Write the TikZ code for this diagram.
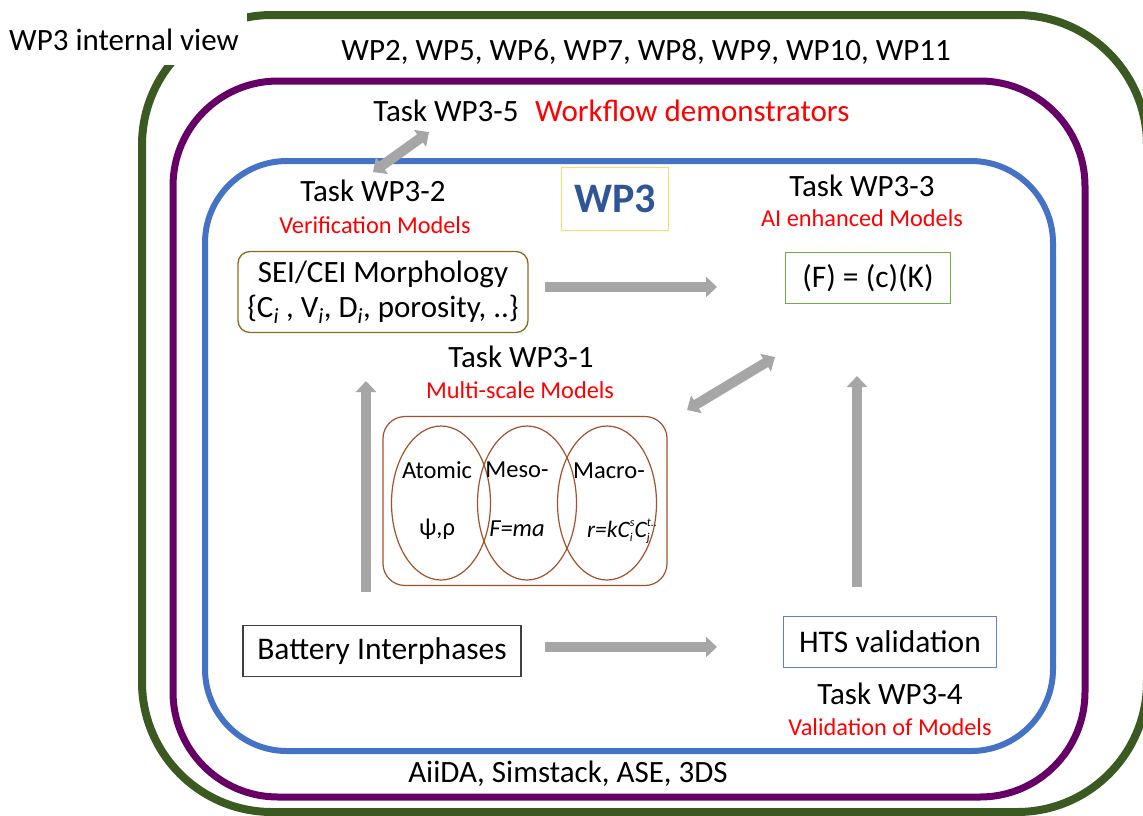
\documentclass[tikz,border=0pt]{standalone}
\usepackage{fontspec}
\setmainfont{Carlito}
\usetikzlibrary{arrows.meta,shapes.geometric}
\definecolor{wpgreen}{HTML}{3A5A22}
\definecolor{wppurple}{HTML}{660066}
\definecolor{wpblue}{HTML}{4472C4}
\definecolor{arrowgray}{HTML}{A6A6A6}
\definecolor{seibrown}{HTML}{8C6A1C}
\definecolor{msbrown}{HTML}{A0522D}
\definecolor{wpgold}{HTML}{FFD966}
\definecolor{wptext}{HTML}{2F5597}
\definecolor{fgreen}{HTML}{70AD47}
\definecolor{htsblue}{HTML}{5B82C8}
\definecolor{redtxt}{HTML}{FF0000}
\newcommand{\mysub}[1]{\raisebox{-4pt}{\fontsize{12}{13}\selectfont #1}}
\newcommand{\mysup}[1]{\raisebox{10.5pt}{\fontsize{12}{13}\selectfont #1}}
\begin{document}
\begin{tikzpicture}[x=1pt,y=-1pt,
  big/.style={font=\fontsize{31}{36}\selectfont, inner sep=0pt},
  boxtext/.style={font=\fontsize{31.5}{36}\selectfont},
  sub/.style={font=\fontsize{24.3}{28}\selectfont, text=redtxt, inner sep=0pt},
  small/.style={font=\fontsize{24.5}{28}\selectfont, inner sep=0pt},
  boxed/.style={draw=#1, line width=1.3pt, inner sep=0pt},
  blockarrow/.style={draw=arrowgray, line width=10pt, -{Triangle[length=11pt,width=20pt]}},
  dblarrow/.style={draw=arrowgray, line width=10pt, {Triangle[length=11pt,width=20pt]}-{Triangle[length=11pt,width=20pt]}},
  scaleell/.style={ellipse, draw=msbrown, line width=1.2pt, minimum width=99pt, minimum height=154pt, inner sep=0pt}
]
\useasboundingbox (0,0) rectangle (1143,815);
\fill[white] (0,0) rectangle (1143,815);
% frames
\draw[wpgreen, line width=8pt, rounded corners=130pt] (142,15) rectangle (1147,812);
\draw[wppurple, line width=7pt, rounded corners=105pt] (173,81) rectangle (1085,797);
\draw[wpblue, line width=6pt, rounded corners=82pt] (205,161) rectangle (1053,751);
\fill[white] (0,0) rectangle (247,65);
\node[big, anchor=west] (title) at (9,40) {WP3 internal view};
\node[big] (wps) at (646,52) {WP2, WP5, WP6, WP7, WP8, WP9, WP10, WP11};
\node[big] (t5) at (446,111) {Task WP3-5};
\node[big, text=redtxt, anchor=west] (wf) at (535,111) {Workflow demonstrators};
\node[big] (t2) at (373,191) {Task WP3-2};
\node[sub] (vm) at (375,225) {Verification Models};
\node[boxed=wpgold, minimum width=107pt, minimum height=63pt, font=\fontsize{42}{46}\bfseries\selectfont, text=wptext] (wp3) at (615,199) {WP3};
\node[big] (t3) at (862,186) {Task WP3-3};
\node[sub] (ai) at (862,218) {AI enhanced Models};
% SEI box
\node[boxed=seibrown, rounded corners=12pt, minimum width=290pt, minimum height=81pt, align=center, font=\fontsize{31}{35}\selectfont] (sei) at (383,292)
  {SEI/CEI Morphology\\\{C\textsubscript{\itshape i} , V\textsubscript{\itshape i}, D\textsubscript{\itshape i}, porosity, ..\}};
\node[boxed=fgreen, minimum width=165pt, minimum height=51pt, boxtext] (fbox) at (868,278) {(F) = (c)(K)};
\node[big] (t1) at (521,357) {Task WP3-1};
\node[sub] (msm) at (520,390) {Multi-scale Models};
% multiscale
\node[draw=msbrown, line width=1.2pt, rounded corners=22pt, minimum width=284pt, minimum height=169pt] (ms) at (525,501) {};
\node[scaleell] (e1) at (441,503) {};
\node[scaleell] (e2) at (527,503) {};
\node[scaleell] (e3) at (607,503) {};
\node[small] (atom) at (437,470) {Atomic};
\node[small] (psi) at (437,529) {ψ,ρ};
\node[small] (meso) at (517,470) {Meso-};
\node[small, font=\fontsize{24.5}{28}\itshape\selectfont] (fma) at (517,529) {F=ma};
\node[small] (macro) at (609,471) {Macro-};
\node[small, font=\fontsize{23.5}{27}\itshape\selectfont] (rate) at (622,531) {r=kC\rlap{\mysub{i}}\mysup{s}C\rlap{\mysub{j}}\mysup{t..}};
% bottom
\node[boxed=black!75, minimum width=278pt, minimum height=51pt, boxtext] (bat) at (382,651) {Battery Interphases};
\node[boxed=htsblue, minimum width=213pt, minimum height=51pt, boxtext] (hts) at (890,642) {HTS validation};
\node[big] (t4) at (890,694) {Task WP3-4};
\node[sub] (vm4) at (890,727) {Validation of Models};
\node[big] (tools) at (568,774) {AiiDA, Simstack, ASE, 3DS};
% arrow ends
\coordinate (a1s) at (373,172); \coordinate (a1e) at (429,132);
\coordinate (a2s) at (545,287); \coordinate (a2e) at (717,287);
\coordinate (a3s) at (687,410); \coordinate (a3e) at (775,357);
\coordinate (a4s) at (366,592); \coordinate (a4e) at (366,381);
\coordinate (a5s) at (857,587); \coordinate (a5e) at (857,376);
\coordinate (a6s) at (545,647); \coordinate (a6e) at (717,647);
\draw[dblarrow] (a1s) -- (a1e);
\draw[blockarrow] (a2s) -- (a2e);
\draw[dblarrow] (a3s) -- (a3e);
\draw[blockarrow] (a4s) -- (a4e);
\draw[blockarrow] (a5s) -- (a5e);
\draw[blockarrow] (a6s) -- (a6e);
\end{tikzpicture}
\end{document}
